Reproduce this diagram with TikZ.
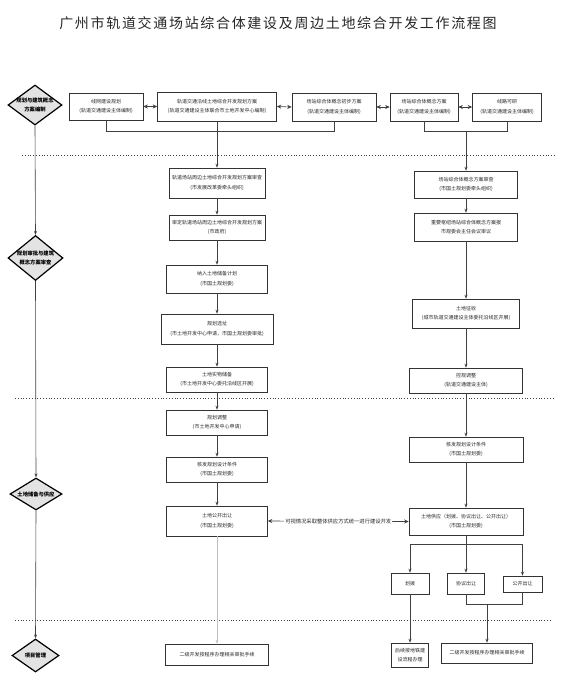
\documentclass[tikz,border=0pt]{standalone}
\usepackage{fontspec}
\newfontfamily\cjk{Noto Sans CJK SC}
\newfontfamily\cjktitle[LetterSpace=12]{Noto Sans CJK SC}
\usetikzlibrary{shapes.geometric,arrows.meta}
\begin{document}
\begin{tikzpicture}[x=1pt,y=-1pt,
  box/.style={draw=black!80, line width=0.6pt, align=center, inner sep=0pt, font=\cjk\fontsize{5}{9.5}\selectfont, text=black!85},
  dia/.style={diamond, draw=black, line width=1.2pt, fill=gray!22, inner sep=0pt},
  diatext/.style={align=center, inner sep=0pt, font=\cjk\bfseries\fontsize{5.3}{8.5}\selectfont},
  link/.style={draw=black!75, line width=0.6pt},
  arr/.style={link, -{Stealth[length=4pt,width=3pt]}},
  darr/.style={link, {Stealth[length=4.5pt,width=4pt]}-{Stealth[length=4.5pt,width=4pt]}},
  sepline/.style={draw=black!75, line width=0.8pt, dotted}]
\useasboundingbox (0,0) rectangle (564,678);

% title
\node[font=\cjktitle\fontsize{14}{16}\selectfont, text=black!85] (title) at (278,23) {广州市轨道交通场站综合体建设及周边土地综合开发工作流程图};

% separators
\draw[sepline] (22,155) -- (555,155);
\draw[sepline] (15,398) -- (555,398);
\draw[sepline] (15,620) -- (552,620);

% diamonds
\node[dia, minimum width=54pt, minimum height=40pt] (D1) at (35,105) {};
\node[diatext] at (D1) {规划与建筑概念\\方案编制};
\node[dia, minimum width=55pt, minimum height=45pt] (D2) at (35.5,258) {};
\node[diatext] at (D2) {规划审批与建筑\\概念方案审查};
\node[dia, minimum width=52pt, minimum height=32pt] (D3) at (36,494) {};
\node[diatext] at (D3) {土地储备与供应};
\node[dia, minimum width=47pt, minimum height=33pt] (D4) at (35.5,655.5) {};
\node[diatext] at (D4) {项目管理};
\draw[arr] (D1.south) -- (D2.north);
\draw[arr] (D2.south) -- (D3.north);
\draw[arr] (D3.south) -- (D4.north);

% top row
\node[box, minimum width=74pt, minimum height=27pt] (A) at (106,106.5) {线网建设规划\\(轨道交通建设主体编制)};
\node[box, minimum width=119pt, minimum height=29pt] (B) at (217,106.5) {轨道交通沿线土地综合开发规划方案\\(轨道交通建设主体联合市土地开发中心编制)};
\node[box, minimum width=84pt, minimum height=28pt] (C) at (334,107) {场站综合体概念初步方案\\(轨道交通建设主体编制)};
\node[box, minimum width=68pt, minimum height=28pt] (D) at (424,107) {场站综合体概念方案\\(轨道交通建设主体编制)};
\node[box, minimum width=69pt, minimum height=28pt] (E) at (507,107) {线路可研\\(轨道交通建设主体编制)};
\draw[darr] (A.east) -- (B.west);
\draw[darr] (B.east) -- (C.west);
\draw[darr] (C.east) -- (D.west);
\draw[darr] (D.east) -- (E.west);
\coordinate (jl) at (217,131);
\coordinate (jr) at (466,131);
\draw[link] (A.south) -- (A.south |- jl) -- (C.south |- jl) -- (C.south);
\draw[link] (D.south) -- (D.south |- jr) -- (E.south |- jr) -- (E.south);

% middle column
\node[box, minimum width=96pt, minimum height=30pt] (M1) at (217,183) {轨道场站周边土地综合开发规划方案审查\\(市发展改革委牵头组织)};
\node[box, minimum width=96pt, minimum height=25pt] (M2) at (217,227.5) {审定轨道场站周边土地综合开发规划方案\\(市政府)};
\node[box, minimum width=101pt, minimum height=28pt] (M3) at (217,279) {纳入土地储备计划\\(市国土规划委)};
\node[box, minimum width=112pt, minimum height=30pt] (M4) at (217,329) {规划选址\\(市土地开发中心申请，市国土规划委审批)};
\node[box, minimum width=101pt, minimum height=25pt] (M5) at (217,379.5) {土地实物储备\\(市土地开发中心委托沿线区开展)};
\node[box, minimum width=101pt, minimum height=25pt] (M6) at (217,422.5) {规划调整\\(市土地开发中心申请)};
\node[box, minimum width=101pt, minimum height=25pt] (M7) at (217,469.5) {核发规划设计条件\\(市国土规划委)};
\node[box, minimum width=101pt, minimum height=30pt] (M8) at (217,521) {土地公开出让\\(市国土规划委)};
\node[box, minimum width=103pt, minimum height=21pt] (M9) at (217,654.5) {二级开发按程序办理相关审批手续};
\draw[arr] (B.south) -- (M1.north);
\draw[arr] (M1.south) -- (M2.north);
\draw[arr] (M2.south) -- (M3.north);
\draw[arr] (M3.south) -- (M4.north);
\draw[arr] (M4.south) -- (M5.north);
\draw[arr] (M5.south) -- (M6.north);
\draw[arr] (M6.south) -- (M7.north);
\draw[arr] (M7.south) -- (M8.north);
\draw[arr, draw=black!25] (M8.south) -- (M9.north);

% right column
\node[box, minimum width=103pt, minimum height=27pt] (R1) at (466,184.5) {场站综合体概念方案审查\\(市国土规划委牵头组织)};
\node[box, minimum width=103pt, minimum height=28pt] (R2) at (466,227) {重要枢纽场站综合体概念方案报\\市规委会主任会议审议};
\node[box, minimum width=107pt, minimum height=29pt] (R3) at (466,313.5) {土地征收\\(城市轨道交通建设主体委托沿线区开展)};
\node[box, minimum width=113pt, minimum height=25pt] (R4) at (466,380.5) {控规调整\\(轨道交通建设主体)};
\node[box, minimum width=114pt, minimum height=25pt] (R5) at (466,449.5) {核发规划设计条件\\(市国土规划委)};
\node[box, minimum width=114pt, minimum height=27pt] (R6) at (466,521.5) {土地供应（划拨、协议出让、公开出让）\\(市国土规划委)};
\draw[arr] (jr) -- (R1.north);
\draw[arr] (R1.south) -- (R2.north);
\draw[arr] (R2.south) -- (R3.north);
\draw[arr] (R3.south) -- (R4.north);
\draw[arr] (R4.south) -- (R5.north);
\draw[arr] (R5.south) -- (R6.north);

% horizontal link
\draw[darr] (M8.east) -- node[fill=white, inner sep=1pt, font=\cjk\fontsize{5.3}{6}\selectfont, text=black!85] (hl) {可视情况采取整体供应方式统一进行建设开发} (R6.west);

% supply branches
\node[box, minimum width=38pt, minimum height=21pt] (S1) at (410,583.5) {划拨};
\node[box, minimum width=37pt, minimum height=21pt] (S2) at (466,583.5) {协议出让};
\node[box, minimum width=39pt, minimum height=16pt] (S3) at (522.5,584) {公开出让};
\node[box, minimum width=37pt, minimum height=24pt] (S4) at (410,655) {后续按地铁建\\设流程办理};
\node[box, minimum width=91pt, minimum height=20pt] (S5) at (487,653) {二级开发按程序办理相关审批手续};
\coordinate (bar) at (466,544);
\coordinate (jb) at (487,604);
\draw[link] (R6.south) -- (bar);
\draw[link] (S1.north |- bar) -- (S3.north |- bar);
\draw[arr] (S1.north |- bar) -- (S1.north);
\draw[arr] (bar) -- (S2.north);
\draw[arr] (S3.north |- bar) -- (S3.north);
\draw[arr] (S1.south) -- (S4.north);
\draw[link] (S2.south) -- (S2.south |- jb) -- (S3.south |- jb) -- (S3.south);
\draw[arr] (jb) -- (S5.north);
\end{tikzpicture}
\end{document}
